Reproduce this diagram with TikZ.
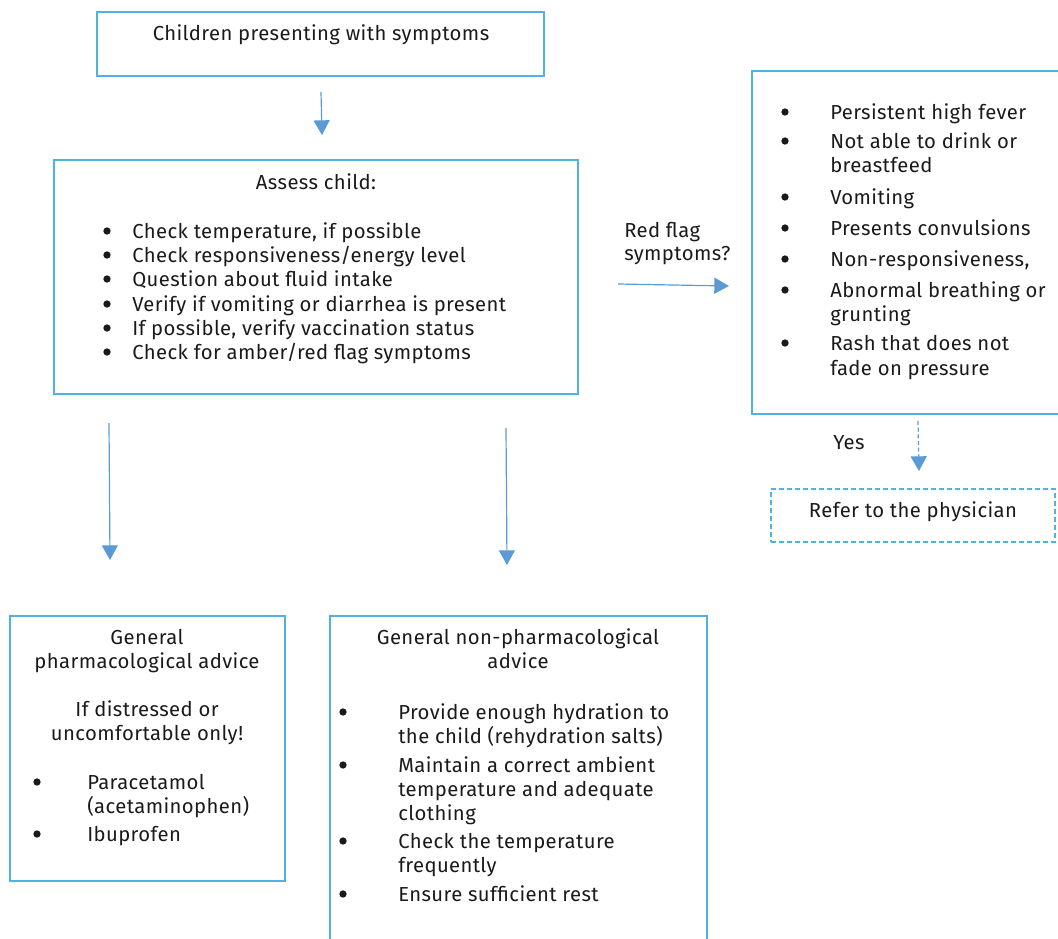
\documentclass[tikz,border=0pt]{standalone}
\usepackage{fontspec}
\setmainfont[LetterSpace=2]{Fira Sans}
\usetikzlibrary{arrows.meta,fit}
\definecolor{boxblue}{HTML}{4FB3DE}
\definecolor{arrowblue}{HTML}{5B9BD5}
\definecolor{inkgray}{HTML}{1A1A1A}
\begin{document}
\begin{tikzpicture}[x=0.75pt,y=-0.75pt,
  box/.style={draw=boxblue,line width=0.9pt,inner sep=0pt},
  dashbox/.style={box,dash pattern=on 3.5pt off 2.5pt},
  flow/.style={draw=arrowblue,line width=0.9pt,-{Triangle[width=12pt,length=11pt]}},
  txt/.style={inner sep=0pt,text=inkgray,font=\fontsize{15.2}{18}\selectfont},
  lt/.style={txt,anchor=base west},
  ct/.style={txt,anchor=base},
  dot/.style={circle,fill=inkgray,inner sep=0pt,minimum size=5.5pt}]
\useasboundingbox (0,0) rectangle (1058,939);
\clip (0,0) rectangle (1058,939);

% ---- box frames ----
\coordinate (topA) at (97,12);   \coordinate (topB) at (544,76);
\coordinate (asA) at (54,160);   \coordinate (asB) at (578,394);
\coordinate (rfA) at (752,71);   \coordinate (rfB) at (1075,414);
\coordinate (phA) at (771,489);  \coordinate (phB) at (1055,542);
\coordinate (gpA) at (10,616);   \coordinate (gpB) at (285,881);
\coordinate (npA) at (330,616);  \coordinate (npB) at (707,960);
\node[box,fit=(topA)(topB)] (top) {};
\node[box,fit=(asA)(asB)] (assess) {};
\node[box,fit=(rfA)(rfB)] (redflag) {};
\node[dashbox,fit=(phA)(phB)] (refer) {};
\node[box,fit=(gpA)(gpB)] (pharm) {};
\node[box,fit=(npA)(npB)] (nonpharm) {};

% ---- top box ----
\node[ct] (topT) at (321,40) {Children presenting with symptoms};

% ---- assessment box ----
\node[ct] (asT) at (316,189) {Assess child:};
\node[dot] (asD1) at (107,231) {}; \node[lt] (asL1) at (132,238) {Check temperature, if possible};
\node[dot] (asD2) at (107,255) {}; \node[lt] (asL2) at (132,262) {Check responsiveness/energy level};
\node[dot] (asD3) at (107,279) {}; \node[lt] (asL3) at (132,286) {Question about fluid intake};
\node[dot] (asD4) at (107,304) {}; \node[lt] (asL4) at (132,311) {Verify if vomiting or diarrhea is present};
\node[dot] (asD5) at (107,328) {}; \node[lt] (asL5) at (132,335) {If possible, verify vaccination status};
\node[dot] (asD6) at (107,352) {}; \node[lt] (asL6) at (132,359) {Check for amber/red flag symptoms};

% ---- red flag box ----
\node[dot] (rfD1) at (785,112) {}; \node[lt] (rfL1) at (830,119) {Persistent high fever};
\node[dot] (rfD2) at (785,141) {}; \node[lt] (rfL2) at (830,148) {Not able to drink or};
                                   \node[lt] (rfL2b) at (830,172) {breastfeed};
\node[dot] (rfD3) at (785,197) {}; \node[lt] (rfL3) at (830,204) {Vomiting};
\node[dot] (rfD4) at (785,228) {}; \node[lt] (rfL4) at (830,235) {Presents convulsions};
\node[dot] (rfD5) at (785,259) {}; \node[lt] (rfL5) at (830,266) {Non-responsiveness,};
\node[dot] (rfD6) at (785,290) {}; \node[lt] (rfL6) at (830,297) {Abnormal breathing or};
                                   \node[lt] (rfL6b) at (830,321) {grunting};
\node[dot] (rfD7) at (785,343) {}; \node[lt] (rfL7) at (830,350) {Rash that does not};
                                   \node[lt] (rfL7b) at (830,375) {fade on pressure};

% ---- labels beside connectors ----
\node[lt] (qA) at (624,237) {Red flag};
\node[lt] (qB) at (624,260) {symptoms?};
\node[ct] (yes) at (849,449) {Yes};

% ---- referral ----
\node[ct] (phT) at (913,517) {Refer to the physician};

% ---- pharmacological advice ----
\node[ct] (gpT1) at (147,644) {General};
\node[ct] (gpT2) at (147,668) {pharmacological advice};
\node[ct] (gpT3) at (147,716) {If distressed or};
\node[ct] (gpT4) at (147,740) {uncomfortable only!};
\node[dot] (gpD1) at (37,782) {}; \node[lt] (gpL1) at (87,789) {Paracetamol};
                                  \node[lt] (gpL1b) at (87,813) {(acetaminophen)};
\node[dot] (gpD2) at (37,834) {}; \node[lt] (gpL2) at (87,841) {Ibuprofen};

% ---- non-pharmacological advice ----
\node[ct] (npT1) at (518,644) {General non-pharmacological};
\node[ct] (npT2) at (518,668) {advice};
\node[dot] (npD1) at (343,712) {}; \node[lt] (npL1) at (398,719) {Provide enough hydration to};
                                   \node[lt] (npL1b) at (398,743) {the child (rehydration salts)};
\node[dot] (npD2) at (343,765) {}; \node[lt] (npL2) at (398,772) {Maintain a correct ambient};
                                   \node[lt] (npL2b) at (398,796) {temperature and adequate};
                                   \node[lt] (npL2c) at (398,820) {clothing};
\node[dot] (npD3) at (343,841) {}; \node[lt] (npL3) at (398,848) {Check the temperature};
                                   \node[lt] (npL3b) at (398,872) {frequently};
\node[dot] (npD4) at (343,894) {}; \node[lt] (npL4) at (398,901) {Ensure sufficient rest};

% ---- connectors ----
\coordinate (c1s) at (321,92);  \coordinate (c1e) at (322,135);
\coordinate (c2s) at (618,284); \coordinate (c2e) at (729,286);
\coordinate (c3s) at (109,423); \coordinate (c3e) at (110,560);
\coordinate (c4s) at (506,428); \coordinate (c4e) at (507,565);
\coordinate (c5s) at (918,421); \coordinate (c5e) at (919,471);
\draw[flow] (c1s) -- (c1e);
\draw[flow] (c2s) -- (c2e);
\draw[flow] (c3s) -- (c3e);
\draw[flow] (c4s) -- (c4e);
\draw[flow,dash pattern=on 3pt off 2pt] (c5s) -- (c5e);
\end{tikzpicture}
\end{document}
